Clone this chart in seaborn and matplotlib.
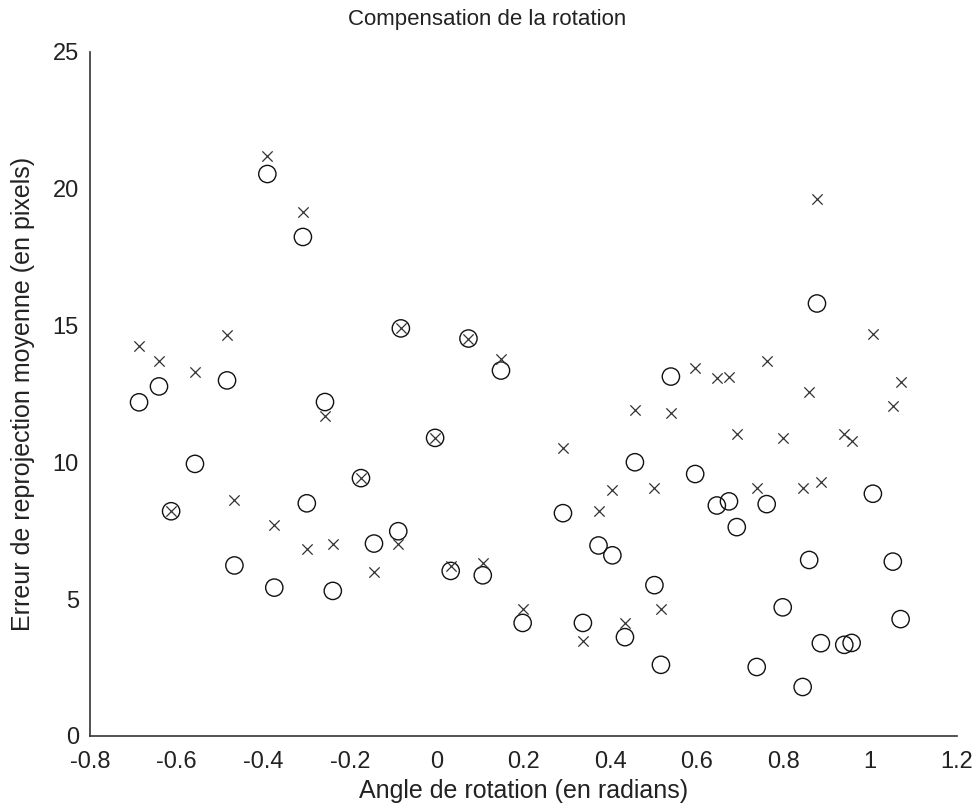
import numpy as np
import pandas as pd
import seaborn as sns
import matplotlib.pyplot as plt

# data: one angle per trial, two error values
angle = [-0.687, -0.641, -0.613, -0.558, -0.484, -0.467, -0.391, -0.375, -0.309, -0.300,
         -0.258, -0.240, -0.175, -0.145, -0.089, -0.083, -0.004, 0.032, 0.073, 0.106,
         0.148, 0.198, 0.291, 0.337, 0.373, 0.405, 0.434, 0.457, 0.502, 0.517,
         0.540, 0.596, 0.646, 0.674, 0.692, 0.738, 0.761, 0.798, 0.844, 0.859,
         0.877, 0.886, 0.940, 0.957, 1.006, 1.052, 1.070]
err_circle = [12.19, 12.77, 8.21, 9.94, 12.99, 6.23, 20.53, 5.42, 18.23, 8.50,
              12.20, 5.30, 9.42, 7.03, 7.48, 14.89, 10.89, 6.03, 14.52, 5.87,
              13.35, 4.13, 8.14, 4.13, 6.96, 6.60, 3.61, 10.00, 5.51, 2.60,
              13.13, 9.57, 8.42, 8.57, 7.63, 2.52, 8.47, 4.70, 1.79, 6.43,
              15.80, 3.39, 3.33, 3.40, 8.85, 6.37, 4.27]
err_cross = [14.23, 13.71, 8.21, 13.29, 14.66, 8.63, 21.19, 7.70, 19.16, 6.82,
             11.69, 7.03, 9.42, 6.00, 7.02, 14.89, 10.89, 6.20, 14.52, 6.33,
             13.77, 4.64, 10.53, 3.46, 8.21, 8.99, 4.13, 11.90, 9.05, 4.64,
             11.81, 13.43, 13.07, 13.13, 11.03, 9.05, 13.71, 10.87, 9.05, 12.56,
             19.61, 9.27, 11.05, 10.78, 14.68, 12.04, 12.93]
x_ticks = ['-0.8', '-0.6', '-0.4', '-0.2', '0', '0.2', '0.4', '0.6', '0.8', '1', '1.2']
y_ticks = [0, 5, 10, 15, 20, 25]

df = pd.DataFrame({'angle': angle, 'circle': err_circle, 'cross': err_cross})

sns.set_style('white')
plt.rcParams['font.family'] = ['Liberation Sans Narrow', 'Liberation Sans', 'DejaVu Sans']

fig = plt.figure(figsize=(9.79, 8.07), dpi=100)
ax = fig.add_axes([0.092, 0.088, 0.8855, 0.848])

sns.scatterplot(data=df, x='angle', y='circle', marker='o', s=155,
                facecolor='none', edgecolor='#111111', linewidth=1.0, ax=ax)
sns.scatterplot(data=df, x='angle', y='cross', marker='x', s=55,
                color='#333333', linewidth=0.9, ax=ax)

ax.set_xlim(-0.8, 1.2)
ax.set_ylim(0, 25)
ax.set_xticks(np.linspace(-0.8, 1.2, len(x_ticks)))
ax.set_xticklabels(x_ticks)
ax.set_yticks(y_ticks)
ax.tick_params(direction='in', length=7, width=1, labelsize=17, color='#333333',
               labelcolor='#222222')
ax.tick_params(axis='x', pad=11)
ax.tick_params(axis='y', pad=8)
sns.despine(ax=ax)
for s in ['left', 'bottom']:
    ax.spines[s].set_linewidth(1.2)
    ax.spines[s].set_color('#333333')

ax.set_xlabel('Angle de rotation (en radians)', fontsize=18, color='#222222')
ax.xaxis.set_label_coords(0.5, -0.063)
ax.set_ylabel('Erreur de reprojection moyenne (en pixels)', fontsize=18, color='#222222')
ax.yaxis.set_label_coords(-0.063, 0.5)
fig.text(487 / 979, 1 - 19 / 807, 'Compensation de la rotation', fontsize=16,
         ha='center', va='center', color='#222222')

fig.savefig('out.png', dpi=100)
